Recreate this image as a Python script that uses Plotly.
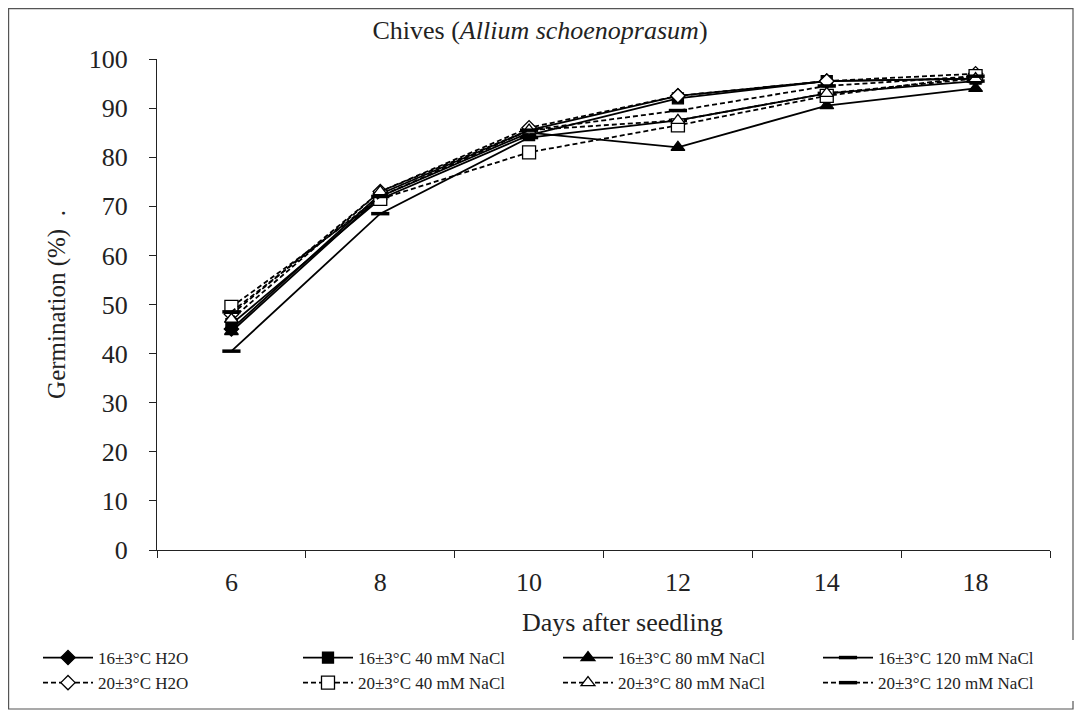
import plotly.graph_objects as go

days = ["6", "8", "10", "12", "14", "18"]

h2o_16 = [45.0, 72.5, 85.5, 92.5, 95.5, 96.0]
nacl40_16 = [46.0, 71.5, 84.5, 92.0, 95.5, 96.0]
nacl80_16 = [44.5, 72.0, 85.0, 82.0, 90.5, 94.0]
nacl120_16 = [40.5, 68.5, 84.0, 87.5, 93.0, 95.5]
h2o_20 = [48.0, 73.0, 86.0, 92.5, 95.5, 97.0]
nacl40_20 = [49.5, 71.5, 81.0, 86.5, 92.5, 96.5]
nacl80_20 = [47.0, 73.0, 85.5, 87.5, 93.0, 96.0]
nacl120_20 = [48.5, 72.0, 85.5, 89.5, 94.5, 96.5]

names = ["16±3°C H2O", "16±3°C 40 mM NaCl", "16±3°C 80 mM NaCl", "16±3°C 120 mM NaCl",
         "20±3°C H2O", "20±3°C 40 mM NaCl", "20±3°C 80 mM NaCl", "20±3°C 120 mM NaCl"]
series = [h2o_16, nacl40_16, nacl80_16, nacl120_16, h2o_20, nacl40_20, nacl80_20, nacl120_20]

symbols = ["diamond", "square", "triangle-up", "line-ew", "diamond", "square", "triangle-up", "line-ew"]
fills = ["black", "black", "black", "black", "white", "white", "white", "black"]
sizes = [11, 11, 12, 13, 11, 13, 12, 13]
dashes = ["solid"] * 4 + ["5px,3px"] * 4

FONT = "Liberation Serif, Times New Roman, serif"

fig = go.Figure()
for nm, ys, sym, fc, sz, ds in zip(names, series, symbols, fills, sizes, dashes):
    mline = dict(color="black", width=3.5 if sym == "line-ew" else 1.3)
    fig.add_trace(go.Scatter(
        x=days, y=ys, name=nm, mode="lines+markers",
        line=dict(color="black", width=1.8, dash=ds),
        marker=dict(symbol=sym, size=sz, color=fc, line=mline),
    ))

# figure coordinates (page body adds an 8px offset)
W, H = 1074, 708
px_l, px_r, px_t, px_b = 149, 1042, 51, 542

def px2x(p):
    return (p - px_l) / (px_r - px_l)

def py2y(p):
    return (px_b - p) / (px_b - px_t)

fig.add_shape(type="rect", xref="paper", yref="paper",
              x0=px2x(0.6), x1=px2x(1065), y0=py2y(701), y1=py2y(0.6),
              line=dict(color="#555555", width=1.2), fillcolor="rgba(0,0,0,0)", layer="below")

fig.add_annotation(text="Days after seedling", xref="paper", yref="paper",
                   x=px2x(614), y=py2y(614), xanchor="center", yanchor="middle",
                   showarrow=False, font=dict(family=FONT, size=26, color="#222222"))

fig.update_layout(
    width=W, height=H,
    margin=dict(l=px_l, r=W - px_r, t=px_t, b=H - px_b, autoexpand=False),
    paper_bgcolor="white", plot_bgcolor="white",
    font=dict(family=FONT, color="#222222", size=24),
    title=dict(text="Chives (<i>Allium schoenoprasum</i>)", x=(532 / W), xanchor="center",
               y=1 - 22 / H, yanchor="middle", font=dict(family=FONT, size=26, color="#222222")),
    showlegend=True,
    legend=dict(orientation="h", x=px2x(30), xanchor="left", y=py2y(632), yanchor="top",
                entrywidth=195, entrywidthmode="pixels", traceorder="normal",
                font=dict(family=FONT, size=17, color="#222222"), itemwidth=50, tracegroupgap=0),
    xaxis=dict(type="category", range=[-0.5, 5.5], showline=True, linecolor="#222222",
               linewidth=1, ticks="outside", tickson="boundaries", ticklen=7,
               tickcolor="#222222", showgrid=False, zeroline=False,
               ticklabelstandoff=9,
               tickfont=dict(family=FONT, size=26)),
    yaxis=dict(range=[0, 100], dtick=10, showline=True, linecolor="#222222", linewidth=1,
               ticks="outside", ticklen=7, tickcolor="#222222", showgrid=False,
               zeroline=False, tickfont=dict(family=FONT, size=26), ticklabelstandoff=16,
               title=dict(text="Germination (%)  .", standoff=16, font=dict(family=FONT, size=25))),
)

fig.write_html("out.html")
